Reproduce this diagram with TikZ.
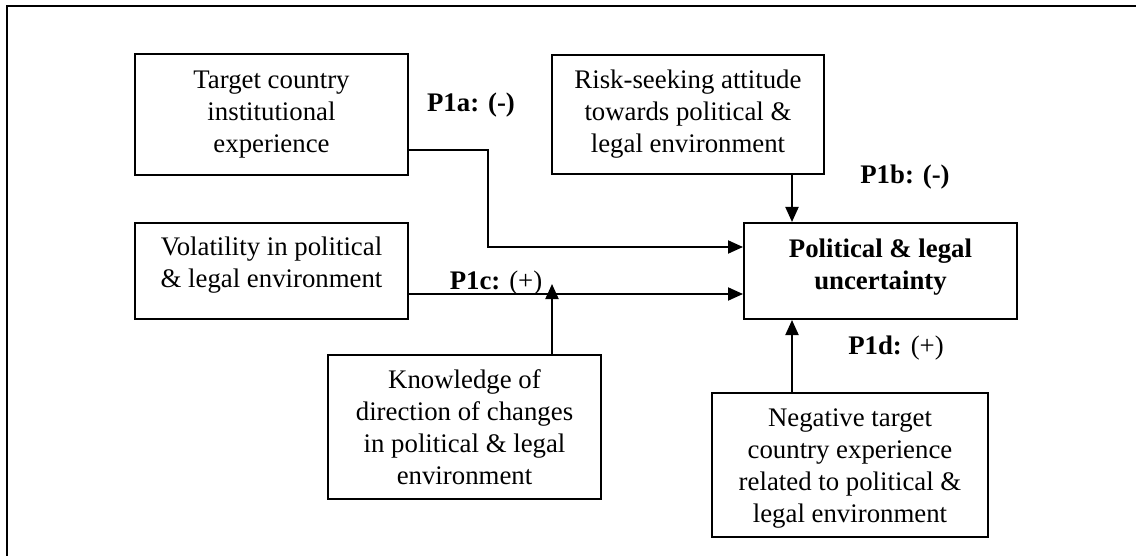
\documentclass[tikz,border=0pt]{standalone}
\usepackage{fontspec}
\setmainfont{Liberation Serif}
\usetikzlibrary{arrows.meta}
\begin{document}
\begin{tikzpicture}[x=0.5pt,y=-0.5pt,
  txt/.style={font=\fontsize{13.4}{16}\selectfont,align=center,inner sep=0pt},
  box/.style={draw,line width=1pt,inner sep=0pt},
  lbl/.style={font=\fontsize{13.4}{16}\selectfont\bfseries,inner sep=0pt},
  arr/.style={line width=1pt,-{Triangle[length=7.5pt,width=6.5pt]}},
  frame/.style={line width=1.1pt}]
\useasboundingbox (0,0) rectangle (1136,556);
% outer frame (open to the right and bottom)
\coordinate (fbl) at (7,580);
\coordinate (ftl) at (7,6);
\coordinate (ftr) at (1160,6);
\draw[frame] (fbl) -- (ftl) -- (ftr);

% boxes
\node[box,minimum width=136.5pt,minimum height=60.5pt] (inst) at (271.5,114.5) {};
\node[box,minimum width=136pt,minimum height=59.5pt] (risk) at (688,114.5) {};
\node[box,minimum width=136.5pt,minimum height=48pt] (vol) at (271.5,271) {};
\node[box,minimum width=136.5pt,minimum height=48pt] (pol) at (880.5,271) {};
\node[box,minimum width=136.5pt,minimum height=72pt] (know) at (464.5,427) {};
\node[box,minimum width=138pt,minimum height=72pt] (neg) at (850,465) {};

% box texts
\node[txt] (instt) at (inst.center) {Target country\\institutional\\experience};
\node[txt] (riskt) at (risk.center) {Risk-seeking attitude\\towards political \&\\legal environment};
\node[txt] (volt) at ([yshift=3pt]vol.center) {Volatility in political\\\& legal environment};
\node[txt,font=\fontsize{13.4}{16}\selectfont\bfseries] (polt) at ([yshift=2pt]pol.center) {Political \& legal\\uncertainty};
\node[txt] (knowt) at (know.center) {Knowledge of\\direction of changes\\in political \& legal\\environment};
\node[txt] (negt) at ([yshift=-2pt]neg.center) {Negative target\\country experience\\related to political \&\\legal environment};

% helper coordinates for connector rows/columns
\coordinate (ya) at (0,150);
\coordinate (bend) at (488,247);
\coordinate (yc) at (0,294);
\coordinate (xk) at (552,0);
\coordinate (kend) at (552,284);
\coordinate (xv) at (792,0);

% connectors
\draw[arr] (inst.east |- ya) -| (bend) -- (pol.west |- bend);
\draw[arr] (vol.east |- yc) -- (pol.west |- yc);
\draw[arr] (know.north -| xk) -- (kend);
\draw[arr] (risk.south -| xv) -- (pol.north -| xv);
\draw[arr] (neg.north -| xv) -- (pol.south -| xv);

% hypothesis labels
\node[lbl] (p1a) at (471,105) {P1a: (-)};
\node[lbl] (p1b) at (905,177) {P1b: (-)};
\node[lbl] (p1c) at (496,283) {P1c: {\mdseries(+)}};
\node[lbl] (p1d) at (896,348) {P1d: {\mdseries(+)}};
\end{tikzpicture}
\end{document}
